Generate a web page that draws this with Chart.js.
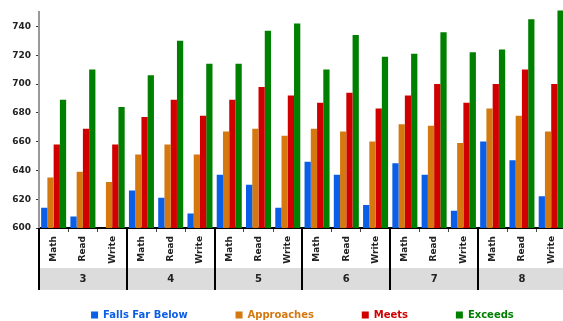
<!DOCTYPE html>
<html lang="en">
<head>
<meta charset="UTF-8">
<title>Puntajes por grado</title>
<script src="https://cdn.jsdelivr.net/npm/chart.js"></script>
<style>
  html, body { margin: 0; padding: 0; overflow: hidden; background: #fff; }
  canvas { display: block; }
</style>
</head>
<body>
<canvas id="chart" width="566" height="330"></canvas>
<script>
const grados = ["3", "4", "5", "6", "7", "8"];
const materias = ["Math", "Read", "Write"];
const ticksY = [600, 620, 640, 660, 680, 700, 720, 740];

const fallsFarBelow = [614, 608, 600, 626, 621, 610, 637, 630, 614, 646, 637, 616, 645, 637, 612, 660, 647, 622];
const approaches = [635, 639, 632, 651, 658, 651, 667, 669, 664, 669, 667, 660, 672, 671, 659, 683, 678, 667];
const meets = [658, 669, 658, 677, 689, 678, 689, 698, 692, 687, 694, 683, 692, 700, 687, 700, 710, 700];
const exceeds = [689, 710, 684, 706, 730, 714, 714, 737, 742, 710, 734, 719, 721, 736, 722, 724, 745, 751];

const etiquetasMateria = grados.flatMap(() => materias);
const fuente = "DejaVu Sans";
const colorTexto = "#222";

// lineas negras que separan los grados, del eje hasta el fondo de la banda gris
const separadoresGrado = {
    id: "separadoresGrado",
    afterDraw(chart) {
        const ejeGrado = chart.scales.grado;
        const contexto = chart.ctx;
        contexto.save();
        contexto.strokeStyle = "#000";
        contexto.lineWidth = 2;
        for (let i = 0; i <= grados.length; i++) {
            const x = Math.round(ejeGrado.getPixelForValue(i - 0.5));
            contexto.beginPath();
            contexto.moveTo(x, chart.chartArea.bottom);
            contexto.lineTo(x, ejeGrado.bottom);
            contexto.stroke();
        }
        contexto.restore();
    }
};

function serie(nombre, valores, color) {
    return {
        label: nombre,
        data: valores,
        backgroundColor: color,
        borderWidth: 0,
        // solo se deja salir la barra por arriba (la de 751)
        clip: { left: 0, top: false, right: 0, bottom: 0 }
    };
}

const contexto = document.getElementById("chart").getContext("2d");

new Chart(contexto, {
    type: "bar",
    data: {
        labels: etiquetasMateria,
        datasets: [
            serie("Falls Far Below", fallsFarBelow, "#0a5fe6"),
            serie("Approaches", approaches, "#d4780f"),
            serie("Meets", meets, "#d00000"),
            serie("Exceeds", exceeds, "#008000")
        ]
    },
    options: {
        responsive: false,
        devicePixelRatio: 1,
        animation: false,
        categoryPercentage: 0.855,
        barPercentage: 1,
        layout: { padding: { top: 12, left: 0, right: 0, bottom: 0 } },
        plugins: {
            tooltip: { enabled: false },
            legend: {
                position: "bottom",
                fullSize: false,
                labels: {
                    boxWidth: 7,
                    boxHeight: 7,
                    padding: 20,
                    font: { family: fuente, size: 10, weight: "bold" },
                    generateLabels: chart => chart.data.datasets.map((ds, i) => ({
                        text: ds.label + (i < chart.data.datasets.length - 1 ? " ".repeat(8) : ""),
                        fillStyle: ds.backgroundColor,
                        strokeStyle: ds.backgroundColor,
                        fontColor: ds.backgroundColor,
                        lineWidth: 0,
                        hidden: false,
                        datasetIndex: i
                    }))
                }
            }
        },
        scales: {
            x: {
                type: "category",
                position: "bottom",
                offset: true,
                grid: { offset: true, drawOnChartArea: false, tickLength: 4, color: "#444", lineWidth: 1 },
                border: { display: true, color: "#000", width: 2 },
                ticks: {
                    autoSkip: false,
                    minRotation: 90,
                    maxRotation: 90,
                    padding: 4,
                    color: colorTexto,
                    font: { family: fuente, size: 9, weight: "bold" }
                },
                afterFit: eje => { eje.height = 40; }
            },
            grado: {
                type: "category",
                labels: grados,
                position: "bottom",
                offset: true,
                backgroundColor: "#dcdcdc",
                grid: { display: false, drawTicks: false },
                border: { display: false },
                ticks: {
                    padding: 5,
                    color: colorTexto,
                    font: { family: fuente, size: 10, weight: "bold" }
                },
                afterFit: eje => { eje.height = 22; }
            },
            y: {
                min: 600,
                max: 750,
                grid: { drawOnChartArea: false, tickLength: 3, color: "#333" },
                border: { display: true, color: "#999", width: 2 },
                ticks: {
                    padding: 5,
                    color: colorTexto,
                    font: { family: fuente, size: 9, weight: "bold" }
                },
                afterBuildTicks: eje => { eje.ticks = ticksY.map(v => ({ value: v })); },
                afterFit: eje => { eje.width = 39; }
            }
        }
    },
    plugins: [separadoresGrado]
});
</script>
</body>
</html>
